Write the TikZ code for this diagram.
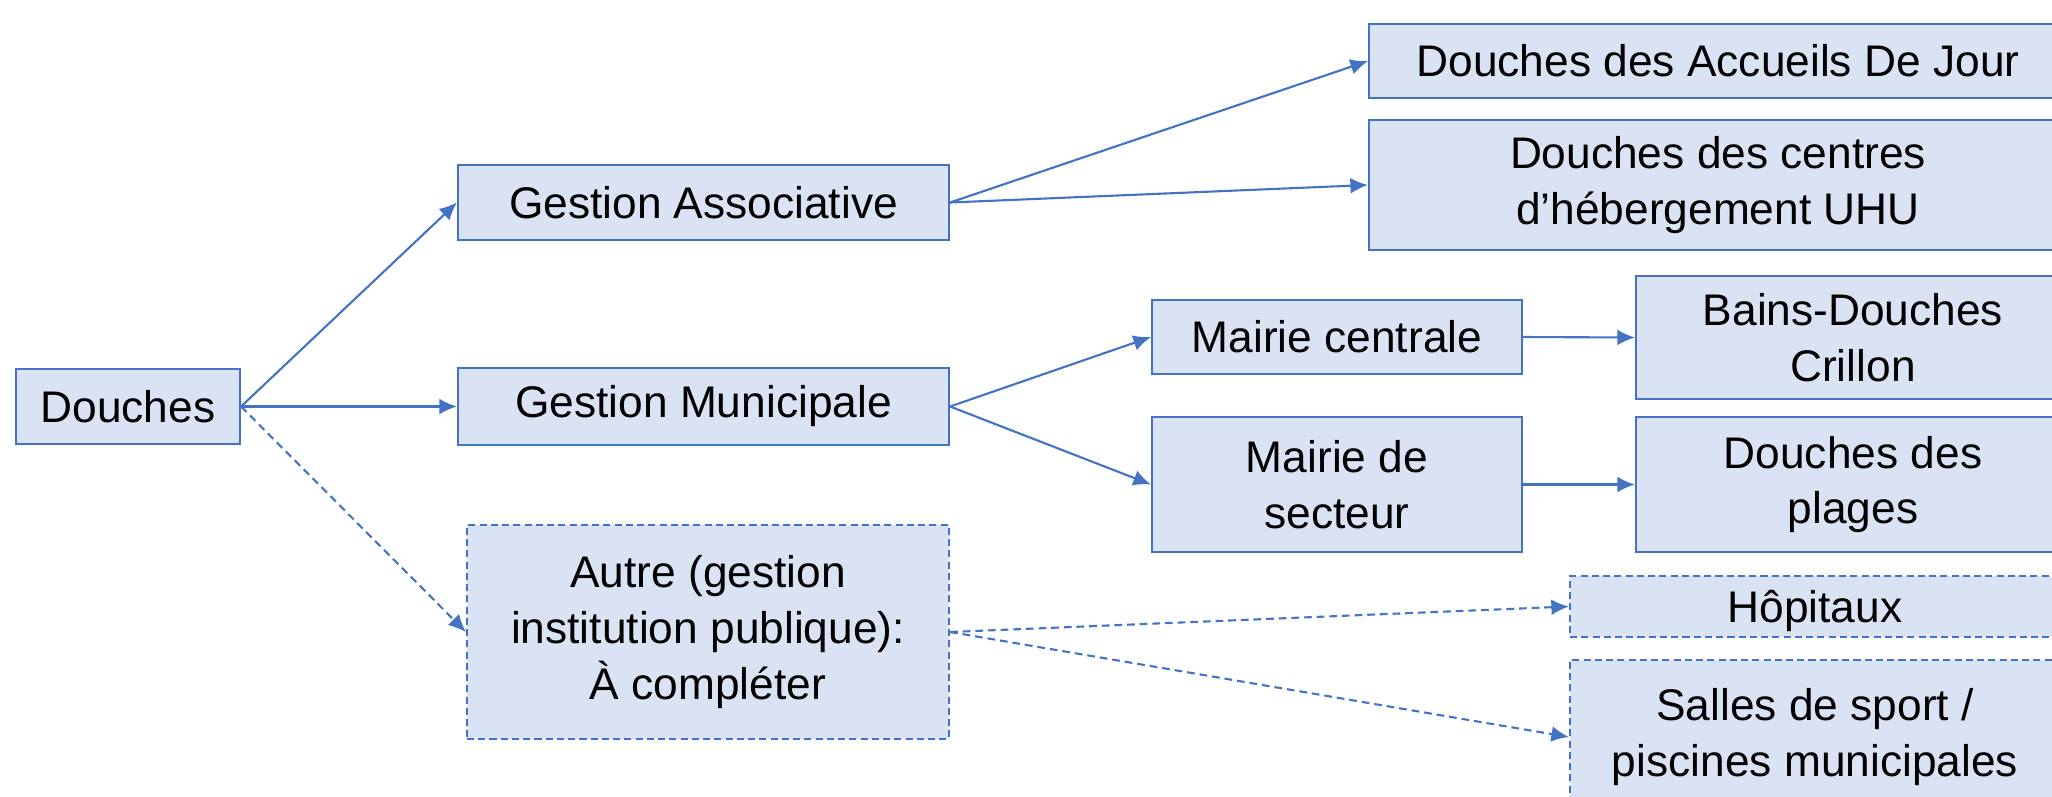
\documentclass[tikz,border=0pt]{standalone}
\usepackage{fontspec}
\setmainfont{Liberation Sans}
\usetikzlibrary{arrows.meta}
\definecolor{boxfill}{HTML}{DAE3F3}
\definecolor{boxline}{HTML}{4472C4}
\tikzset{
  box/.style={draw=boxline, fill=boxfill, line width=0.6pt, align=center, inner sep=0pt,
    font=\fontsize{12.6}{15.9}\selectfont},
  dbox/.style={box, dash pattern=on 2pt off 1.2pt},
  link/.style={draw=boxline, line width=0.6pt, -{Latex[length=5pt,width=4.5pt]}},
  dlink/.style={link, dash pattern=on 2.2pt off 1.4pt}
}
\begin{document}
\begin{tikzpicture}
\path[use as bounding box] (0,0) rectangle (20.52,-7.96);
\clip (0,0) rectangle (20.52,-7.96);

\draw (1.28,-4.065) node[box, minimum width=2.24cm, minimum height=0.75cm] (douches) {Douches};

\draw (7.035,-2.025) node[box, minimum width=4.91cm, minimum height=0.75cm] (assoc) {Gestion Associative};
\draw (7.035,-4.065) node[box, minimum width=4.91cm, minimum height=0.77cm] (munic) {Gestion Municipale};
\draw (7.08,-6.32) node[dbox, minimum width=4.82cm, minimum height=2.14cm] (autre) {Autre (gestion\\institution publique):\\À compléter};

\draw (17.18,-0.61) node[box, minimum width=6.98cm, minimum height=0.74cm] (accueils) {Douches des Accueils De Jour};
\draw (17.18,-1.85) node[box, minimum width=6.98cm, minimum height=1.30cm] (uhu) {Douches des centres\\d’hébergement UHU};

\draw (13.37,-3.37) node[box, minimum width=3.70cm, minimum height=0.74cm] (centrale) {Mairie centrale};
\draw (13.37,-4.845) node[box, minimum width=3.70cm, minimum height=1.35cm] (secteur) {Mairie de\\secteur};

\draw (18.53,-3.375) node[box, minimum width=4.34cm, minimum height=1.23cm] (crillon) {Bains-Douches\\Crillon};
\draw (18.53,-4.845) node[box, minimum width=4.34cm, minimum height=1.35cm] (plages) {Douches des\\plages};

\draw (18.15,-6.065) node[dbox, minimum width=4.90cm, minimum height=0.61cm] (hopitaux) {\raisebox{-1.5pt}[9pt][3pt]{Hôpitaux}};
\draw (18.15,-7.37) node[dbox, minimum width=4.90cm, minimum height=1.54cm] (sport) {Salles de sport /\\piscines municipales};

\draw[link] (douches.east) -- (assoc.west);
\draw[link] (douches.east) -- (munic.west);
\draw[dlink] (douches.east) -- (autre.west);

\draw[link] (assoc.east) -- (accueils.west);
\draw[link] (assoc.east) -- (uhu.west);
\draw[link] (munic.east) -- (centrale.west);
\draw[link] (munic.east) -- (secteur.west);
\draw[link] (centrale.east) -- (crillon.west);
\draw[link] (secteur.east) -- (plages.west);

\draw[dlink] (autre.east) -- (hopitaux.west);
\draw[dlink] (autre.east) -- (sport.west);
\end{tikzpicture}
\end{document}
